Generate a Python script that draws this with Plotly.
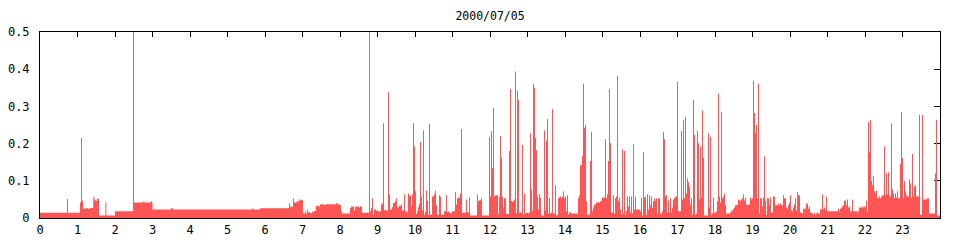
import plotly.graph_objects as go

# ---- data (hour of day, value) ----
# quiet period 0h-8h: change points of the stepped series
h_early = [0, 0.72, 0.747, 1.067, 1.093, 1.12, 1.147, 1.2, 1.227, 1.253, 1.28, 1.333,
           1.42, 1.45, 1.475, 1.5, 1.52, 1.573, 1.742, 1.769, 2.0, 2.48, 2.507, 2.755,
           2.781, 2.96, 2.987, 3.0, 3.49, 3.55, 5.66, 5.687, 5.867, 6.64, 6.667, 6.747,
           6.773, 6.844, 6.916, 6.96, 7.013, 7.07, 7.093, 7.12, 7.147, 7.173, 7.2, 7.227,
           7.253, 7.28, 7.307, 7.36, 7.44, 7.467, 7.573, 7.627, 7.893, 7.92]
v_early = [.014, .051, .014, .042, .215, .047, .025, .027, .025, .027, .025, .027,
           .058, .049, .047, .046, .052, .007, .042, .007, .018, .5, .042, .045,
           .042, .045, .042, .023, .026, .023, .026, .023, .026, .039, .030, .052,
           .042, .045, .050, .048, .012, .018, .012, .023, .015, .017, .014, .012,
           .017, .015, .019, .033, .030, .037, .035, .037, .040, .037]

# busy period from 8h on: regular samples every 1.6 minutes
SAMPLE_MIN = 1.6
START_H = 8.0
v_08 = [.034, .018, .012, .012, .012, .012, .012, .012, .012, .012,
        .027, .031, .031, .031, .020, .031, .031, .031, .031, .027,
        .031, .031, .014, .014, .014, .014, .014, .014, .014, .5,
        .018, .027, .053, .009, .023, .023, .020, .020, .018, .018,
        .018, .036, .039, .255, .021, .021, .021, .018, .339, .064,
        .023, .023, .029, .040, .040, .046, .053, .029, .029, .033,
        .033, .036, .020, .020, .064, .018, .018, .014, .066, .060,
        .060, .032, .064, .255, .193, .072, .011, .018, .029, .039,
        .204, .058, .021, .236, .009, .016, .074, .046, .009, .253,
        .009, .009, .058, .058, .064, .073, .034, .009, .009, .061]
v_10 = [.058, .009, .009, .009, .018, .018, .061, .016, .016, .016,
        .013, .013, .018, .018, .018, .070, .036, .053, .055, .055,
        .066, .239, .014, .015, .015, .015, .050, .015, .015, .055,
        .007, .007, .007, .007, .007, .007, .007, .064, .045, .048,
        .048, .053, .007, .007, .007, .007, .007, .007, .007, .218,
        .058, .234, .134, .296, .058, .061, .061, .061, .010, .057,
        .220, .161, .058, .028, .053, .053, .011, .011, .011, .180,
        .347, .046, .043, .046, .050, .394, .013, .342, .318, .014,
        .015, .014, .196, .009, .066, .012, .012, .012, .012, .015,
        .228, .075, .018, .361, .350, .215, .182, .058, .023, .064]
v_13 = [.055, .007, .007, .007, .236, .020, .207, .266, .012, .053,
        .012, .015, .293, .012, .012, .088, .007, .009, .053, .055,
        .058, .053, .058, .072, .053, .058, .018, .061, .009, .015,
        .015, .012, .012, .012, .012, .012, .012, .012, .053, .061,
        .142, .142, .166, .361, .242, .250, .045, .009, .009, .009,
        .153, .231, .018, .028, .036, .036, .042, .042, .042, .042,
        .045, .047, .055, .055, .055, .212, .053, .064, .153, .347,
        .201, .015, .015, .061, .012, .053, .058, .382, .045, .055,
        .023, .009, .185, .012, .180, .009, .019, .058, .031, .058,
        .015, .058, .012, .199, .023, .058, .023, .023, .023, .023]
v_16 = [.018, .055, .007, .177, .055, .058, .009, .064, .023, .061,
        .034, .058, .027, .045, .053, .045, .053, .012, .053, .053,
        .012, .012, .018, .231, .212, .058, .061, .015, .047, .015,
        .053, .015, .028, .050, .053, .058, .058, .366, .018, .018,
        .018, .234, .050, .264, .053, .272, .066, .107, .096, .085,
        .036, .053, .009, .318, .223, .009, .012, .234, .201, .050,
        .193, .055, .288, .161, .007, .007, .007, .007, .228, .028,
        .218, .009, .012, .055, .015, .015, .018, .045, .334, .058,
        .042, .285, .053, .058, .066, .034, .012, .012, .012, .012,
        .015, .018, .020, .025, .028, .034, .034, .036, .050, .047]
v_18 = [.047, .050, .053, .064, .047, .055, .036, .034, .036, .036,
        .055, .050, .053, .369, .282, .228, .250, .053, .361, .012,
        .053, .053, .031, .055, .166, .047, .009, .053, .053, .036,
        .055, .015, .015, .058, .058, .034, .034, .034, .039, .034,
        .039, .034, .034, .061, .053, .053, .028, .025, .034, .042,
        .061, .020, .018, .028, .036, .053, .020, .069, .061, .061,
        .015, .015, .012, .025, .025, .025, .039, .039, .025, .031,
        .015, .015, .012, .009, .015, .009, .012, .015, .012, .012,
        .023, .023, .064, .023, .028, .023, .058, .018, .018, .018,
        .018, .018, .018, .018, .018, .018, .018, .018, .025, .018]
v_21 = [.025, .028, .031, .034, .047, .047, .034, .050, .028, .031,
        .018, .018, .050, .018, .018, .018, .018, .015, .018, .028,
        .028, .028, .031, .028, .031, .028, .047, .018, .258, .177,
        .264, .101, .088, .112, .072, .066, .074, .055, .053, .058,
        .053, .058, .061, .061, .193, .061, .120, .064, .123, .061,
        .058, .255, .077, .066, .053, .066, .055, .072, .053, .053,
        .145, .285, .161, .053, .099, .072, .061, .058, .058, .104,
        .093, .055, .172, .058, .085, .088, .058, .058, .058, .277,
        .009, .009, .277, .050, .050, .050, .050, .053, .053, .012,
        .012, .012, .012, .012, .012, .120, .264, .007, .007, .007,
        .007]

y_ticks = [0, 0.1, 0.2, 0.3, 0.4, 0.5]
y_labels = ["0", "0.1", "0.2", "0.3", "0.4", "0.5"]
x_ticks = list(range(24))
x_labels = [str(h) for h in x_ticks]
title_text = "2000/07/05"

# ---- assemble ----
dense = v_08 + v_10 + v_13 + v_16 + v_18 + v_21
step_h = SAMPLE_MIN / 60.0
h_dense = [START_H + i * step_h for i in range(len(dense))]
xs = h_early + h_dense + [24.05]
ys = v_early + dense + [dense[-1]]

RED = "#ff5555"
FONT = dict(family="DejaVu Sans Mono", size=12, color="black")

fig = go.Figure()
fig.add_trace(go.Scatter(
    x=xs, y=ys, mode="lines",
    line=dict(shape="hv", width=0, color=RED),
    fill="tozeroy", fillcolor=RED,
    hoverinfo="skip", showlegend=False,
))
fig.add_trace(go.Scatter(x=[None], y=[None], yaxis="y2", showlegend=False,
                         hoverinfo="skip"))

fig.update_layout(
    width=960, height=240,
    margin=dict(l=40, r=20, t=32, b=22, autoexpand=False),
    paper_bgcolor="white", plot_bgcolor="white",
    title=dict(text=title_text, x=0.5, xref="paper", y=1 - 15.5 / 240,
               yref="container", yanchor="middle", xanchor="center",
               font=dict(family="DejaVu Sans Mono", size=11.5, color="black")),
    xaxis=dict(range=[0, 24], tickvals=x_ticks, ticktext=x_labels,
               ticks="inside", ticklen=5, tickcolor="black", tickwidth=1,
               showline=True, linecolor="black", linewidth=1, mirror="ticks",
               showgrid=False, zeroline=False, layer="below traces",
               tickfont=FONT, ticklabelstandoff=1, automargin=False),
    yaxis=dict(range=[0, 0.5], tickvals=y_ticks, ticktext=y_labels,
               ticks="", showline=True, linecolor="black", linewidth=1,
               mirror=True, showgrid=False, zeroline=False,
               layer="below traces", tickfont=FONT, ticklabelstandoff=7,
               automargin=False),
    yaxis2=dict(range=[0, 0.5], tickvals=y_ticks, overlaying="y", side="right",
                ticks="inside", ticklen=6, tickcolor="black", tickwidth=1,
                showticklabels=False, showline=False, showgrid=False,
                zeroline=False, layer="below traces", automargin=False),
)

fig.write_html("out.html")
